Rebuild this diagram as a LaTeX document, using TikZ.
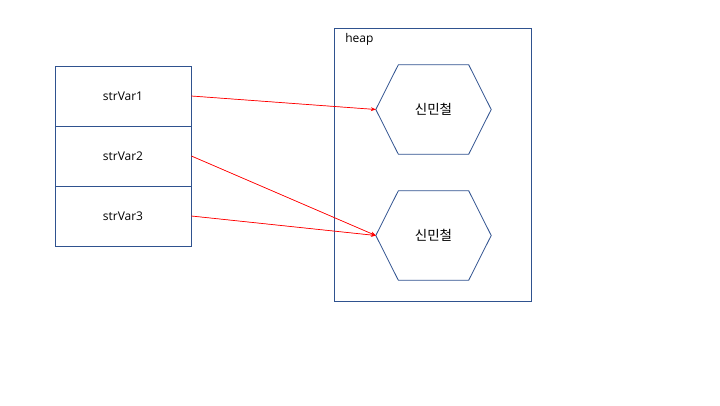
\documentclass[tikz,border=0pt]{standalone}
\usepackage{fontspec}
\setmainfont{Open Sans}
\newfontfamily\kofont{Noto Sans CJK KR}
\usetikzlibrary{positioning, arrows.meta}
\definecolor{boxblue}{RGB}{47,82,143}
\definecolor{refred}{RGB}{255,0,0}

\begin{document}
\begin{tikzpicture}[x=1pt, y=-1pt, >={Stealth[length=5pt, width=4pt]},
    varbox/.style={draw=boxblue, line width=0.8pt, minimum width=136pt, minimum height=60pt, inner sep=0pt, font=\fontsize{12}{14}\selectfont},
    objspot/.style={minimum width=115pt, minimum height=89pt, inner sep=0pt, font=\kofont\fontsize{13.5}{16}\selectfont},
    ref/.style={->, draw=refred, fill=refred, line width=0.7pt}]
    \useasboundingbox (0, 0) rectangle (720, 405);
    \def\tip{22.5}
    % heap area
    \node[draw=boxblue, line width=0.8pt, minimum width=197pt, minimum height=273pt, inner sep=0pt] (heap) at (433, 165) {};
    \node[below right=5pt and 11pt of heap.north west, inner sep=0pt, font=\fontsize{12}{14}\selectfont] (heaplbl) {heap};
    % stack variables
    \node[varbox] (var1) at (123, 96) {strVar1};
    \node[varbox, below=-0.8pt of var1] (var2) {strVar2};
    \node[varbox, below=-0.8pt of var2] (var3) {strVar3};
    % string objects
    \node[objspot] (obj1) at (433.5, 109.5) {신민철};
    \node[objspot] (obj2) at (433.5, 235.5) {신민철};
    \foreach \o in {obj1, obj2}{
        \draw[boxblue, line width=0.8pt] (\o.west) -- ([xshift=\tip]\o.north west) -- ([xshift=-\tip]\o.north east)
            -- (\o.east) -- ([xshift=-\tip]\o.south east) -- ([xshift=\tip]\o.south west) -- cycle;
    }
    % references
    \draw[ref] (var1.east) -- (obj1.west);
    \draw[ref] (var2.east) -- (obj2.west);
    \draw[ref] (var3.east) -- (obj2.west);
\end{tikzpicture}
\end{document}
